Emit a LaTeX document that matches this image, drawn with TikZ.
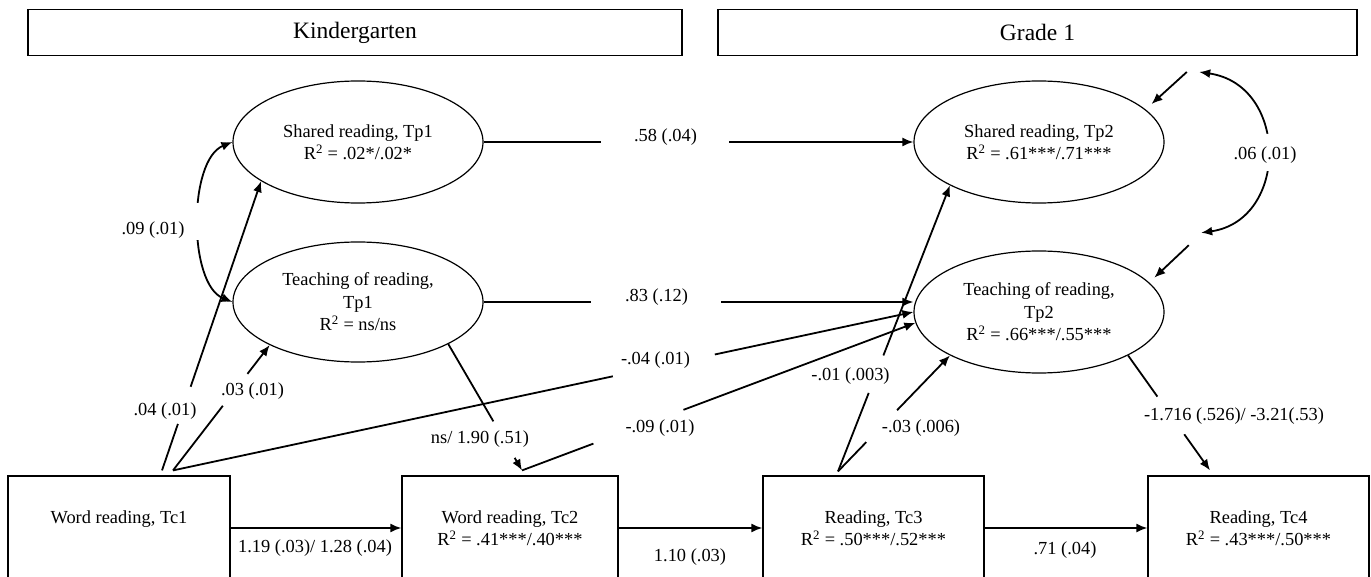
\documentclass[tikz,border=0pt]{standalone}
\usepackage{fontspec}
\setmainfont{Liberation Serif}
\usetikzlibrary{arrows.meta,shapes.geometric}
\newcommand{\bodyfnt}{\fontsize{18.4}{22.5}\selectfont}
\newcommand{\headfnt}{\fontsize{23.5}{28}\selectfont}
\tikzset{
  >={Latex[length=11pt,width=9pt]},
  conn/.style={line width=1.8pt},
  lgap/.style={sloped, fill=white, draw=none, inner sep=0pt, minimum height=9pt, minimum width=#1},
  ell/.style={ellipse, draw, line width=1.2pt, minimum width=250pt, minimum height=122pt, inner sep=0pt, align=center, font=\bodyfnt},
  tbox/.style={rectangle, draw, line width=1.2pt, minimum width=222pt, minimum height=104pt, inner sep=0pt, align=center, font=\bodyfnt},
  headbox/.style={rectangle, draw, line width=1.4pt, minimum height=46pt, inner sep=0pt, font=\headfnt},
  lbl/.style={inner sep=0pt, font=\bodyfnt},
}
\begin{document}
\begin{tikzpicture}[x=1pt,y=-1pt]
\useasboundingbox (0,0) rectangle (1371,577);
\clip (0,0) rectangle (1371,577);
\fill[white] (0,0) rectangle (1371,577);

% headers
\node[headbox, minimum width=654pt] (kg) at (355,32.5) {Kindergarten};
\node[headbox, minimum width=639pt] (g1) at (1037.5,32.5) {Grade 1};

% latent ellipses
\node[ell] (sr1) at (358,142) {Shared reading, Tp1\\R\textsuperscript{2} = .02*/.02*};
\node[ell, minimum height=120pt] (tt1) at (358,302) {Teaching of reading,\\Tp1\\R\textsuperscript{2} = ns/ns};
\node[ell] (sr2) at (1039,142) {Shared reading, Tp2\\R\textsuperscript{2} = .61***/.71***};
\node[ell] (tt2) at (1039,312) {Teaching of reading,\\Tp2\\R\textsuperscript{2} = .66***/.55***};

% observed boxes
\node[tbox] (tc1) at (119,528) {Word reading, Tc1\\\mbox{}};
\node[tbox, minimum width=216pt] (tc2) at (510,528) {Word reading, Tc2\\R\textsuperscript{2} = .41***/.40***};
\node[tbox, minimum width=221pt] (tc3) at (873.5,528) {Reading, Tc3\\R\textsuperscript{2} = .50***/.52***};
\node[tbox, minimum width=221pt] (tc4) at (1258.5,528) {Reading, Tc4\\R\textsuperscript{2} = .43***/.50***};

% invisible error terms
\node[inner sep=0pt, minimum size=12pt] (e1) at (1193,72) {};
\node[inner sep=0pt, minimum size=12pt] (e2) at (1195,239) {};

% connectors between boxes
\draw[conn,->] (tc1.east) -- (tc2.west);
\draw[conn,->] (tc2.east) -- (tc3.west);
\draw[conn,->] (tc3.east) -- (tc4.west);

% paths from Tc1
\draw[conn,->] ([shift={(43pt,5pt)}]tc1.north) -- (sr1.202) node[lgap=39pt, pos=0.225] {};
\draw[conn,->] ([shift={(54pt,5pt)}]tc1.north) -- (tt1.206) node[lgap=40pt, pos=0.643] {};
\draw[conn,->] ([shift={(54pt,5pt)}]tc1.north) -- (tt2.west) node[lgap=104pt, pos=0.663] {};

% Tp1 -> Tc2, Tc2 -> Tp2
\draw[conn,->] (tt1.335) -- ([shift={(12pt,5pt)}]tc2.north) node[lgap=42pt, pos=0.756] {};
\draw[conn,->] ([shift={(12pt,5pt)}]tc2.north) -- (tt2.185) node[lgap=96pt, pos=0.296] {};

% stability paths
\draw[conn,->] (sr1.east) -- (sr2.west) node[lgap=128pt, pos=0.422] {};
\draw[conn,->] (tt1.east) -- (tt1.east -| tt2.west) node[lgap=130pt, pos=0.401] {};

% Tc3 -> Tp2
\draw[conn,->] ([shift={(-35.5pt,4pt)}]tc3.north) -- (sr2.206) node[lgap=40pt, pos=0.34] {};
\draw[conn,->] ([shift={(-35.5pt,4pt)}]tc3.north) -- (tt2.206) node[lgap=44pt, pos=0.39] {};

% Tp2 -> Tc4
\draw[conn,->] (tt2.334) -- ([shift={(-48.5pt,5pt)}]tc4.north) node[lgap=46pt, pos=0.522] {};

% covariances
\draw[conn,<->] (sr1.west) .. controls (188,160) and (188,284) .. (tt1.west) node[lgap=37pt, pos=0.5] {};
\draw[conn,<->] (e1.east) .. controls (1289,85) and (1289,220) .. (e2.north east) node[lgap=37pt, pos=0.5] {};

% residual arrows
\draw[conn,->,shorten >=8pt] (e1.west) -- (sr2.17);
\draw[conn,->,shorten >=7pt] (e2.south west) -- (tt2.15);

% labels
\node[lbl] (l09) at (153,230) {.09 (.01)};
\node[lbl] (l04) at (165,411.5) {.04 (.01)};
\node[lbl] (l03) at (252.5,391.5) {.03 (.01)};
\node[lbl] (l58) at (665.5,137) {.58 (.04)};
\node[lbl] (l83) at (656.5,297) {.83 (.12)};
\node[lbl] (lm04) at (655.5,360) {-.04 (.01)};
\node[lbl] (lns) at (480,439.3) {ns/ 1.90 (.51)};
\node[lbl] (lm09) at (660,428.3) {-.09 (.01)};
\node[lbl] (lm01) at (850.5,376) {-.01 (.003)};
\node[lbl] (lm03) at (921,428.3) {-.03 (.006)};
\node[lbl] (l1716) at (1234,416.5) {-1.716 (.526)/ -3.21(.53)};
\node[lbl] (l06) at (1265,155) {.06 (.01)};
\node[lbl] (l119) at (315,548.3) {1.19 (.03)/ 1.28 (.04)};
\node[lbl] (l110) at (690,556.7) {1.10 (.03)};
\node[lbl] (l71) at (1065,550) {.71 (.04)};
\end{tikzpicture}
\end{document}
